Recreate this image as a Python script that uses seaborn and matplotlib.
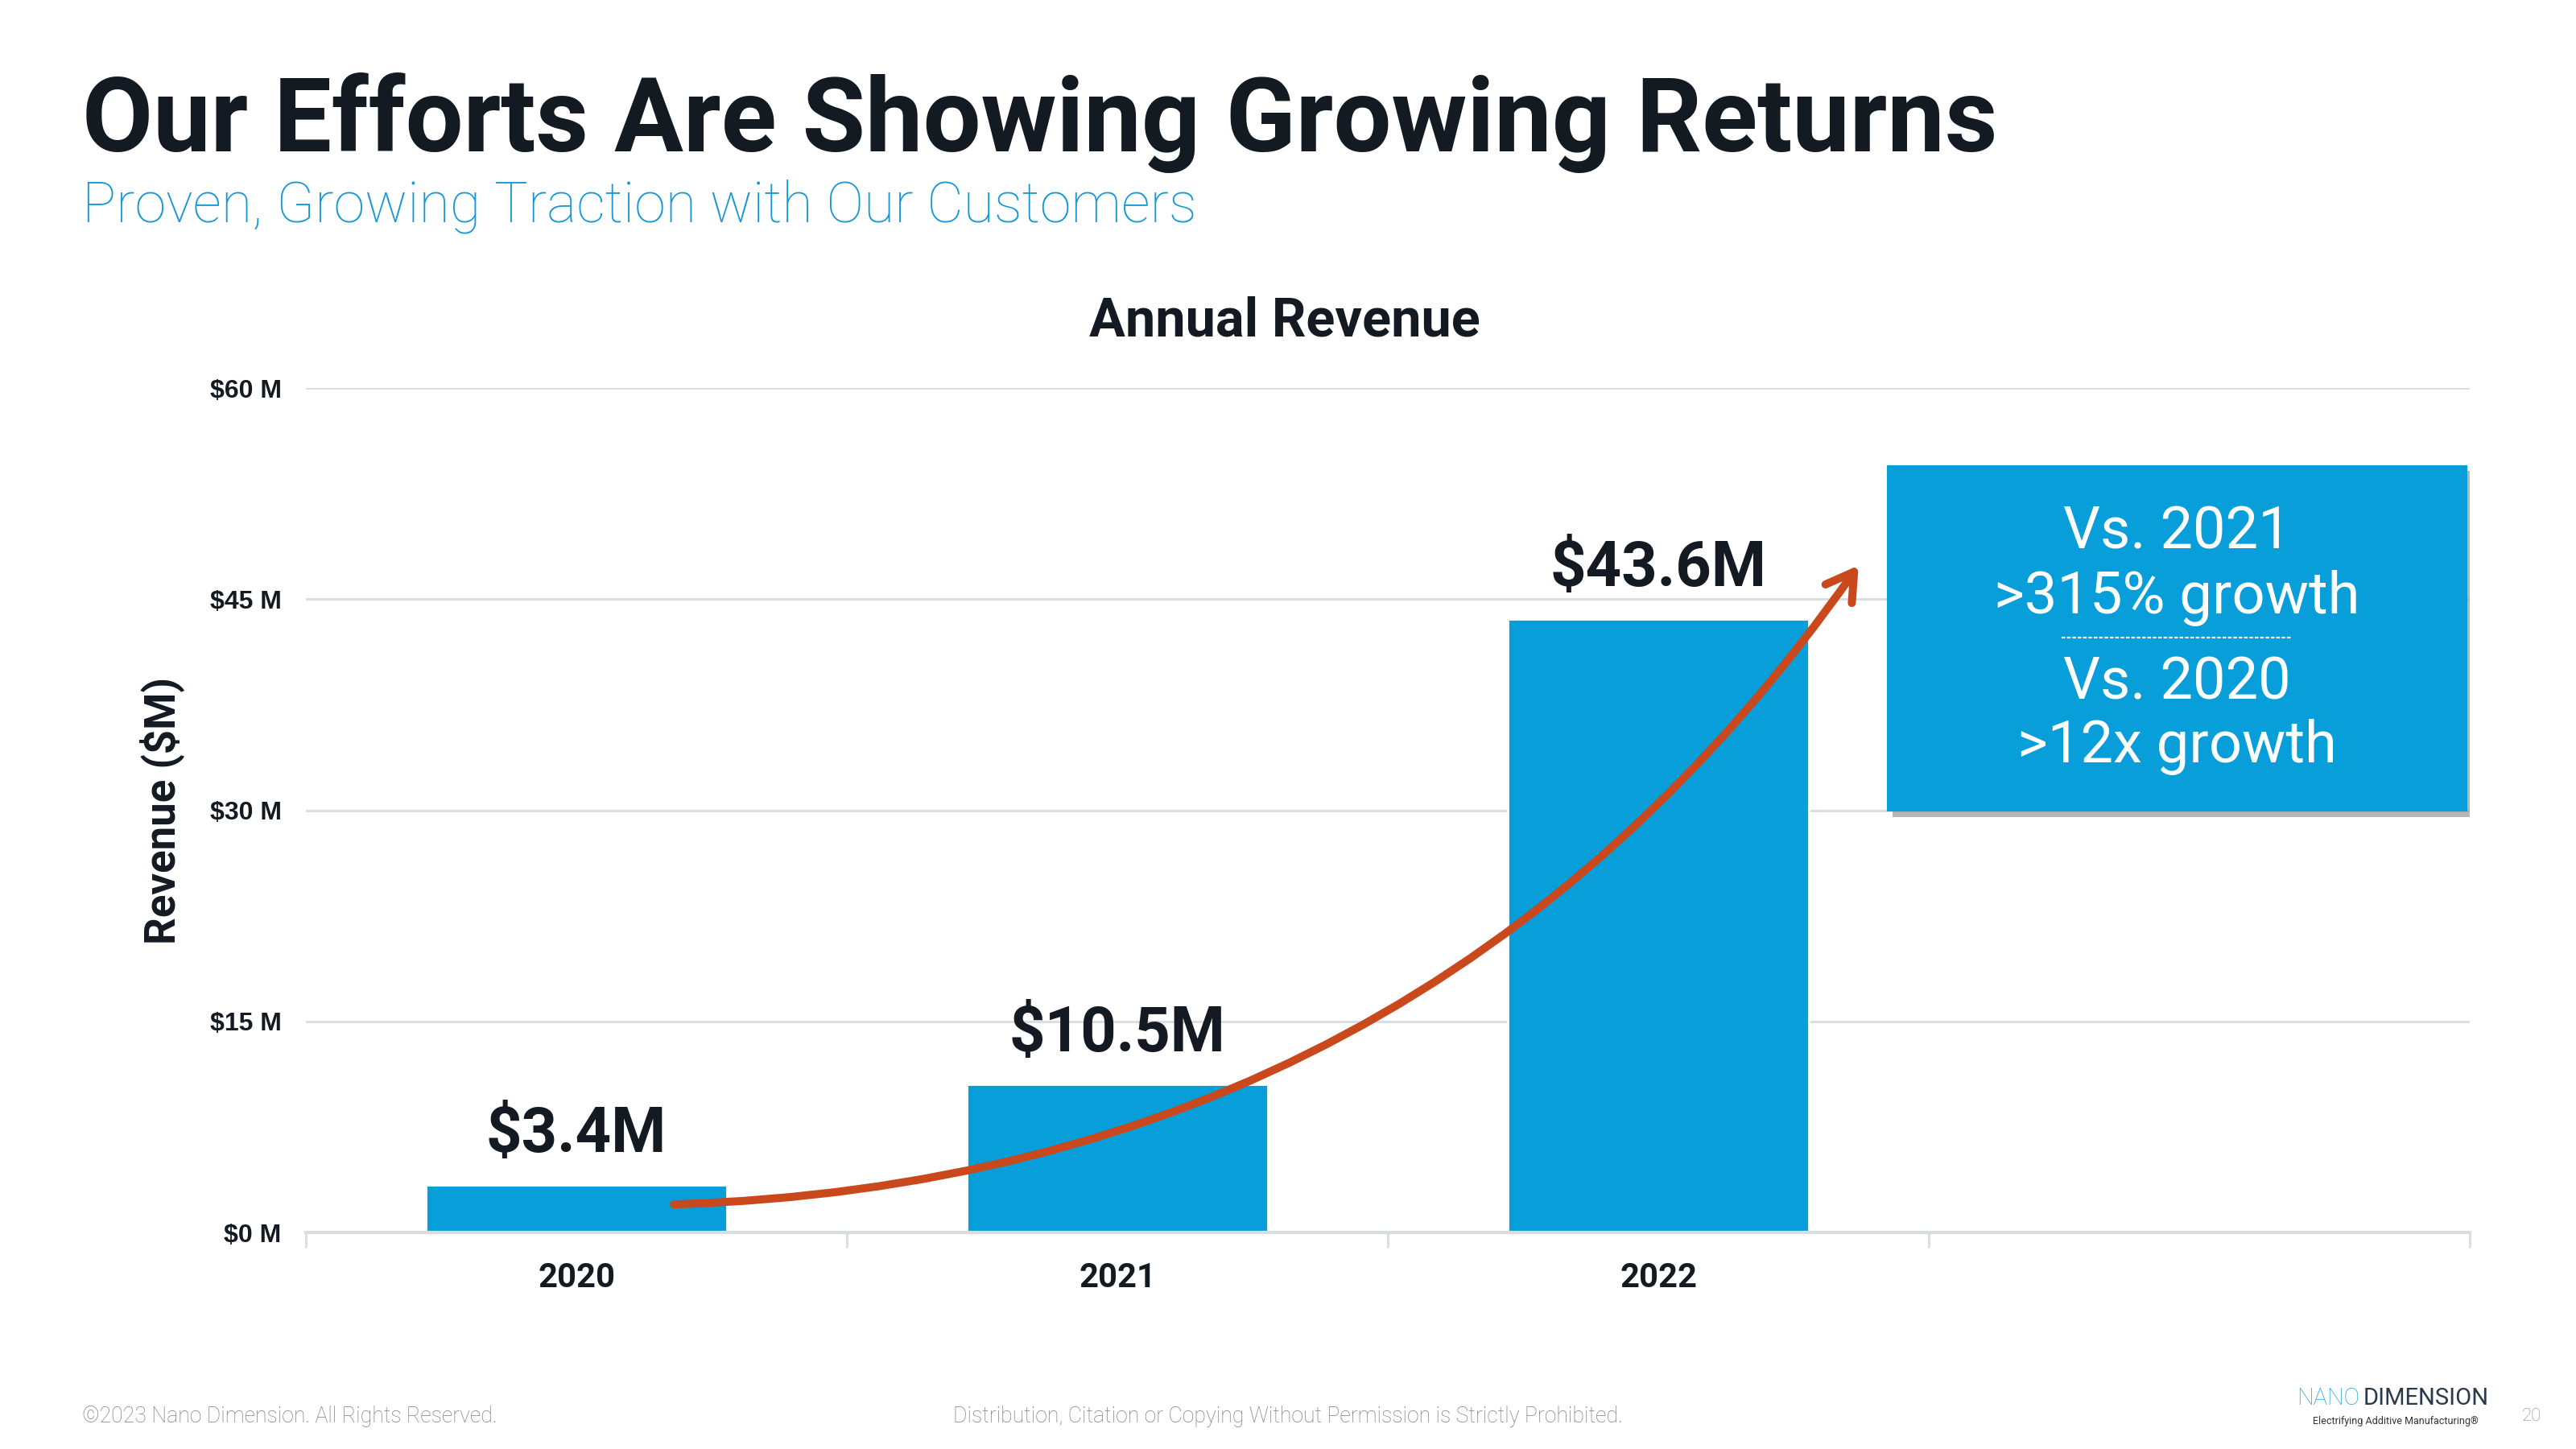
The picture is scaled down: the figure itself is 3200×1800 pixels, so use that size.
import matplotlib

matplotlib.use("Agg")

import matplotlib.patheffects as pe
import matplotlib.pyplot as plt
import numpy as np
import pandas as pd
import seaborn as sns
from matplotlib.patches import Rectangle
from matplotlib.ticker import FixedLocator

# ---------------------------------------------------------------------------
# data
# ---------------------------------------------------------------------------
years = ["2020", "2021", "2022"]
revenue = [3.4, 10.5, 43.6]
bar_labels = ["$3.4M", "$10.5M", "$43.6M"]
y_ticks = [0, 15, 30, 45, 60]
y_tick_labels = ["$0 M", "$15 M", "$30 M", "$45 M", "$60 M"]
callout_lines = ["Vs. 2021", ">315% growth", "Vs. 2020", ">12x growth"]

BLUE = "#089ED9"
DARK = "#141A22"
ORANGE = "#C9481C"
GRID = "#D8DDE2"

sns.set_theme(style="white")
plt.rcParams["font.family"] = ["Roboto", "DejaVu Sans"]

df = pd.DataFrame({"year": years, "revenue": revenue})

fig = plt.figure(figsize=(16, 9), dpi=200)
ax = fig.add_axes([0.1188, 0.1494, 0.84, 0.5828])

sns.barplot(data=df, x="year", y="revenue", color=BLUE, saturation=1,
            width=0.556, ax=ax, zorder=2)

ax.set_xlim(-0.5, 3.5)
ax.set_ylim(0, 60)

# y axis
ax.yaxis.set_major_locator(FixedLocator(y_ticks))
ax.set_yticklabels(y_tick_labels, fontsize=11.5, fontweight="bold",
                   color=DARK, family=["Liberation Sans", "DejaVu Sans"])
ax.tick_params(axis="y", length=0, pad=11)
ax.grid(axis="y", color=GRID, linewidth=1.0, zorder=0)
ax.set_ylabel("Revenue ($M)", fontsize=19, fontweight="bold", color=DARK)
ax.yaxis.set_label_coords(-0.0563, 0.5)

# x axis: labels at centres, ticks at category boundaries
ax.set_xticks(range(len(years)))
ax.set_xticklabels(years, fontsize=15, fontweight="bold", color=DARK)
ax.tick_params(axis="x", which="major", length=0, pad=13)
ax.xaxis.set_minor_locator(FixedLocator(np.arange(-0.5, 3.6, 1.0)))
ax.tick_params(axis="x", which="minor", length=7, width=1.0, color=GRID,
               direction="out", bottom=True)
ax.set_xlabel("")

for side in ["top", "right", "left"]:
    ax.spines[side].set_visible(False)
ax.spines["bottom"].set_color(GRID)
ax.spines["bottom"].set_linewidth(1.5)

# value labels
ax.bar_label(ax.containers[0], labels=bar_labels, padding=9, fontsize=28,
             fontweight="bold", color=DARK)

# growth arrow
ax.annotate("", xy=(2.37, 47.4), xytext=(0.18, 2.0),
            arrowprops=dict(arrowstyle="->,head_length=1.0,head_width=0.6",
                            connectionstyle="arc3,rad=0.25", color=ORANGE,
                            linewidth=3.6, capstyle="round",
                            joinstyle="round", shrinkA=0, shrinkB=0),
            zorder=4)

# callout box
box = Rectangle((2.423, 29.9), 3.495 - 2.423, 54.5 - 29.9, facecolor=BLUE,
                edgecolor="none", zorder=5,
                path_effects=[pe.SimplePatchShadow(offset=(2.5, -2.5),
                                                   shadow_rgbFace="#888888",
                                                   alpha=0.6),
                              pe.Normal()])
ax.add_patch(box)
cx = 2.958
for txt, yy in zip(callout_lines, [49.7, 45.1, 39.0, 34.5]):
    ax.text(cx, yy, txt, ha="center", va="center", fontsize=26,
            color="white", zorder=6)
ax.plot([2.745, 3.17], [42.25, 42.25], color="white", linewidth=0.8,
        linestyle=(0, (2, 1)), zorder=6)

# headings
fig.text(0.032, 0.8956, "Our Efforts Are Showing Growing Returns",
         fontsize=46, fontweight="bold", color=DARK, va="baseline")
fig.text(0.032, 0.8467, "Proven, Growing Traction with Our Customers",
         fontsize=25.2, fontweight="light", color="#1597D4", va="baseline")
fig.text(0.4987, 0.7678, "Annual Revenue", fontsize=24, fontweight="bold",
         color=DARK, ha="center", va="baseline")

# footer
fig.text(0.032, 0.0227, "\u00a92023 Nano Dimension. All Rights Reserved.",
         fontsize=9.6, color="#7F7F7F", va="center", fontweight="light")
fig.text(0.5, 0.0227,
         "Distribution, Citation or Copying Without Permission is Strictly Prohibited.",
         fontsize=9.6, color="#7F7F7F", va="center", ha="center",
         fontweight="light")
fig.text(0.8916, 0.0352, "NANO", fontsize=10.5, color="#2FA3D8",
         fontweight="light", va="center")
fig.text(0.9175, 0.0352, "DIMENSION", fontsize=10.5, color="#2B3A4A",
         va="center")
fig.text(0.93, 0.0193, "Electrifying Additive Manufacturing\u00ae",
         fontsize=4.5, color="#333333", va="center", ha="center")
fig.text(0.9828, 0.0227, "20", fontsize=8, color="#8A8A8A", va="center",
         ha="center", fontweight="light")

fig.savefig("out.png", dpi=200)
plt.close(fig)
